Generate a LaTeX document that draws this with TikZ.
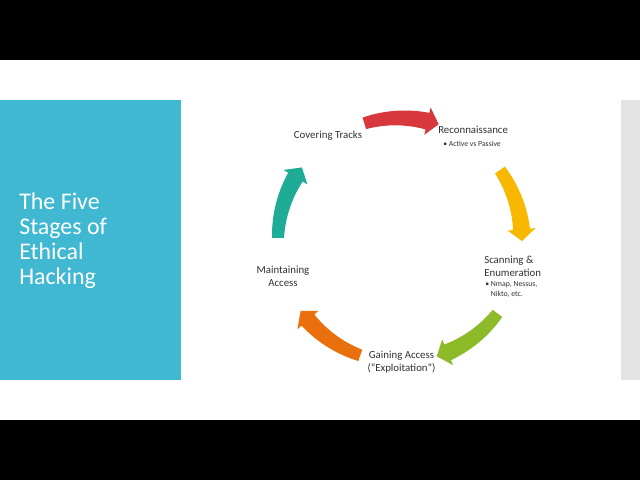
\documentclass[tikz,border=0pt]{standalone}
\usepackage{fontspec}
\setmainfont{Carlito}
\usepackage{xcolor}
\usepackage{tikz}
\usetikzlibrary{positioning}
\definecolor{panel}{RGB}{64,184,210}
\definecolor{sidebar}{RGB}{227,227,227}
\definecolor{txt}{RGB}{50,50,50}
\definecolor{redarrow}{RGB}{214,56,62}
\definecolor{yellowarrow}{RGB}{248,184,0}
\definecolor{greenarrow}{RGB}{140,186,40}
\definecolor{orangearrow}{RGB}{233,112,12}
\definecolor{tealarrow}{RGB}{30,172,150}

\begin{document}
\begin{tikzpicture}[x=.025cm,y=.025cm]
\tikzset{
  stage/.style={text=txt,font=\fontsize{7.7}{9}\selectfont,inner sep=0pt,align=center},
  bullets/.style={text=txt,font=\fontsize{5.5}{7.6}\selectfont,inner sep=0pt,align=left},
}
% slide and letterbox
\fill[black] (0,0) rectangle (640,480);
\fill[white] (0,60) rectangle (640,420);
\fill[panel] (0,100) rectangle (181,380);
\fill[sidebar] (621,100) rectangle (640,380);
\node[anchor=north west,text=white,align=left,inner sep=0pt,
  font=\fontsize{17}{17.8}\selectfont] (title) at (19,287)
  {The Five\\Stages of\\Ethical\\Hacking};
% cycle arrows, clockwise
\begin{scope}[shift={(400,240)}]
\foreach \ang/\col in {90/redarrow,18/yellowarrow,-54/greenarrow,-126/orangearrow,162/tealarrow}{
  \fill[\col] plot[domain={\ang+17}:{\ang-13},samples=16] (\x:{128+2.5*(\ang+17-\x)/30})
    -- ({\ang-13}:136) -- ({\ang-18.5}:122) -- ({\ang-13}:108)
    -- plot[domain={\ang-13}:{\ang+17},samples=16] (\x:{116-2.5*(\ang+17-\x)/30}) -- cycle;
}
\end{scope}
% stages
\node[stage] (cover) at (328,344) {Covering Tracks};
\node[stage,anchor=west] (recon) at (438,350) {Reconnaissance};
\node[bullets,anchor=north west] (reconlist) at (443,339) {• Active vs Passive};
\node[stage,anchor=west,align=left] (scan) at (484,214) {Scanning \&\\Enumeration};
\node[bullets,anchor=north west] (scanlist) at (485,199) {• Nmap, Nessus,\\\phantom{•\ }Nikto, etc.};
\node[stage] (gain) at (401.5,118) {Gaining Access\\(“Exploitation”)};
\node[stage] (maint) at (283,204) {Maintaining\\Access};
\end{tikzpicture}
\end{document}
